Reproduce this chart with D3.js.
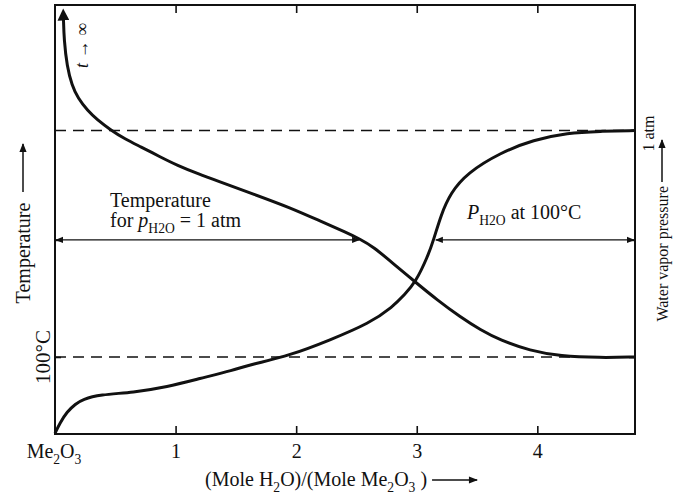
<!DOCTYPE html>
<html>
<head>
<meta charset="utf-8">
<script src="https://cdn.jsdelivr.net/npm/d3@7"></script>
<style>
  body { margin: 0; background: #fff; }
  svg { display: block; font-family: "Liberation Serif", "Times New Roman", serif; }
  .axis .domain { display: none; }
  .axis line { stroke: #111; stroke-width: 1.6; }
  .axis text { font-family: "Liberation Serif", serif; font-size: 20px; fill: #111; }
</style>
</head>
<body>
<svg id="chart" width="673" height="502"></svg>
<script>
"use strict";

// Data (x = mole H2O / mole Me2O3, y = relative level, 100°C level = 1)
var tempX = [0.07, 0.075, 0.10, 0.14, 0.19, 0.27, 0.35, 0.46, 0.58, 0.71, 0.87, 1.01, 1.20, 1.34, 1.62, 1.95, 2.22, 2.41, 2.53, 2.64, 2.80, 2.99, 3.17, 3.36, 3.53, 3.69, 3.94, 4.19, 4.52, 4.81];
var tempY = [5.40, 5.12, 4.77, 4.53, 4.36, 4.20, 4.08, 3.95, 3.83, 3.73, 3.60, 3.49, 3.37, 3.29, 3.13, 2.94, 2.75, 2.62, 2.53, 2.43, 2.22, 1.97, 1.74, 1.52, 1.35, 1.22, 1.08, 1.01, 0.99, 1.00];
var pressX = [0, 0.04, 0.10, 0.17, 0.23, 0.37, 0.65, 0.93, 1.20, 1.48, 1.62, 1.95, 2.28, 2.61, 2.80, 2.90, 2.99, 3.09, 3.14, 3.20, 3.28, 3.42, 3.69, 3.97, 4.25, 4.52, 4.81];
var pressY = [0.01, 0.14, 0.29, 0.39, 0.45, 0.51, 0.54, 0.61, 0.72, 0.83, 0.90, 1.02, 1.22, 1.44, 1.65, 1.81, 1.97, 2.30, 2.52, 2.84, 3.13, 3.39, 3.65, 3.82, 3.91, 3.93, 3.94];
var xTicks = [1, 2, 3, 4];
var level100C = 1;      // 100°C
var level1atm = 3.94;   // 1 atm
var arrowLevel = 2.52;
var leftArrow = [0, 2.53];
var rightArrow = [3.15, 4.81];

var svg = d3.select("#chart");
var margin = {left: 55, right: 38, top: 5, bottom: 68};
var W = 673, H = 502;

var x = d3.scaleLinear().domain([0, 4.81]).range([margin.left, W - margin.right]);
var y = d3.scaleLinear().domain([0, 5.57]).range([H - margin.bottom, margin.top]);

// Markers
var defs = svg.append("defs");
defs.append("marker").attr("id", "bigHead")
  .attr("viewBox", "0 0 10 10").attr("refX", 2).attr("refY", 5)
  .attr("markerWidth", 4).attr("markerHeight", 4)
  .attr("markerUnits", "strokeWidth")
  .attr("orient", "auto-start-reverse")
  .append("path").attr("d", "M0,0 L10,5 L0,10 z").attr("fill", "#111");
defs.append("marker").attr("id", "smallHead")
  .attr("viewBox", "0 0 10 10").attr("refX", 9).attr("refY", 5)
  .attr("markerWidth", 10).attr("markerHeight", 6)
  .attr("markerUnits", "strokeWidth")
  .attr("orient", "auto-start-reverse")
  .append("path").attr("d", "M0,1 L10,5 L0,9 z").attr("fill", "#111");

// Frame
svg.append("rect")
  .attr("x", x(0)).attr("y", y(5.57))
  .attr("width", x(4.81) - x(0)).attr("height", y(0) - y(5.57))
  .attr("fill", "none").attr("stroke", "#111").attr("stroke-width", 2);

// Ticks via axes
svg.append("g").attr("class", "axis")
  .attr("transform", "translate(0," + y(0) + ")")
  .call(d3.axisBottom(x).tickValues(xTicks).tickSize(-8).tickPadding(10).tickFormat(d3.format("d")));
svg.append("g").attr("class", "axis")
  .attr("transform", "translate(0," + y(5.57) + ")")
  .call(d3.axisTop(x).tickValues(xTicks).tickSize(-8).tickFormat(""));
svg.append("g").attr("class", "axis")
  .attr("transform", "translate(" + x(0) + ",0)")
  .call(d3.axisLeft(y).tickValues([level100C, arrowLevel]).tickSize(-6).tickFormat(""));
svg.append("g").attr("class", "axis")
  .attr("transform", "translate(" + x(4.81) + ",0)")
  .call(d3.axisRight(y).tickValues([level100C, arrowLevel, level1atm]).tickSize(-6).tickFormat(""));

// Dashed reference lines
[level100C, level1atm].forEach(function(lv) {
  svg.append("line")
    .attr("x1", x(0)).attr("x2", x(4.81))
    .attr("y1", y(lv)).attr("y2", y(lv))
    .attr("stroke", "#111").attr("stroke-width", 1.6)
    .attr("stroke-dasharray", "11,7");
});

// Curves
var line = d3.line().x(d => x(d[0])).y(d => y(d[1])).curve(d3.curveBasis);
svg.append("path")
  .datum(tempX.map((v, i) => [v, tempY[i]]))
  .attr("d", line)
  .attr("fill", "none").attr("stroke", "#111").attr("stroke-width", 3)
  .attr("marker-start", "url(#bigHead)");
svg.append("path")
  .datum(pressX.map((v, i) => [v, pressY[i]]))
  .attr("d", line)
  .attr("fill", "none").attr("stroke", "#111").attr("stroke-width", 3);

// Double headed arrows
[leftArrow, rightArrow].forEach(function(a) {
  svg.append("line")
    .attr("x1", x(a[0]) + 1).attr("x2", x(a[1]) - 1)
    .attr("y1", y(arrowLevel)).attr("y2", y(arrowLevel))
    .attr("stroke", "#111").attr("stroke-width", 1.3)
    .attr("marker-start", "url(#smallHead)")
    .attr("marker-end", "url(#smallHead)");
});

// Rich text helper: parts = [[text, "sub"|"it"|""], ...]
function rich(sel, parts, size) {
  var shift = 0;
  parts.forEach(function(p) {
    var ts = sel.append("tspan").text(p[0]);
    var want = p[1].indexOf("sub") >= 0 ? Math.round(size * 0.3) : 0;
    if (want != shift) { ts.attr("dy", want - shift); shift = want; }
    if (p[1].indexOf("sub") >= 0) ts.attr("font-size", size * 0.68);
    if (p[1].indexOf("it") >= 0) ts.attr("font-style", "italic");
  });
  return sel;
}

// Labels
rich(svg.append("text").attr("x", x(0) - 1).attr("y", 458).attr("text-anchor", "middle")
  .attr("font-size", 20).attr("fill", "#111"),
  [["Me", ""], ["2", "sub"], ["O", ""], ["3", "sub"]], 20);

var xt = rich(svg.append("text").attr("x", 205).attr("y", 486)
  .attr("font-size", 20).attr("fill", "#111"),
  [["(Mole H", ""], ["2", "sub"], ["O)/(Mole Me", ""], ["2", "sub"], ["O", ""], ["3", "sub"], [" )", ""]], 20);
var xtEnd = 205 + xt.node().getComputedTextLength();
svg.append("line")
  .attr("x1", xtEnd + 5).attr("x2", xtEnd + 50)
  .attr("y1", 480).attr("y2", 480)
  .attr("stroke", "#111").attr("stroke-width", 1.5)
  .attr("marker-end", "url(#smallHead)");

svg.append("text").attr("x", 110).attr("y", 207)
  .attr("font-size", 20).attr("fill", "#111").text("Temperature");
rich(svg.append("text").attr("x", 110).attr("y", 227)
  .attr("font-size", 20).attr("fill", "#111"),
  [["for ", ""], ["p", "it"], ["H", "sub"], ["2", "sub"], ["O", "sub"], [" = 1 atm", ""]], 20);

rich(svg.append("text").attr("x", 467).attr("y", 219)
  .attr("font-size", 20).attr("fill", "#111"),
  [["P", "it"], ["H", "sub"], ["2", "sub"], ["O", "sub"], ["  at 100°C", ""]], 20);

// Rotated left labels
svg.append("text")
  .attr("transform", "translate(30," + 253 + ") rotate(-90)")
  .attr("text-anchor", "middle").attr("font-size", 20).attr("fill", "#111")
  .text("Temperature");
svg.append("line")
  .attr("x1", 23).attr("x2", 23).attr("y1", 192).attr("y2", 144)
  .attr("stroke", "#111").attr("stroke-width", 1.5)
  .attr("marker-end", "url(#smallHead)");
svg.append("text")
  .attr("transform", "translate(50," + y(level100C) + ") rotate(-90)")
  .attr("text-anchor", "middle").attr("font-size", 21).attr("fill", "#111")
  .text("100°C");

// t -> infinity
var tl = svg.append("text")
  .attr("transform", "translate(88,68) rotate(-90)")
  .attr("font-size", 18).attr("fill", "#111");
tl.append("tspan").attr("font-style", "italic").text("t");
tl.append("tspan").attr("fill", "#111").text(" \u2192 \u221E");

// Right labels
svg.append("text")
  .attr("transform", "translate(654," + (y(level1atm) + 3) + ") rotate(-90)")
  .attr("text-anchor", "middle").attr("font-size", 16).attr("fill", "#111")
  .text("1 atm");
svg.append("text")
  .attr("transform", "translate(668,186) rotate(-90)")
  .attr("text-anchor", "end").attr("font-size", 16).attr("fill", "#111")
  .text("Water vapor pressure");
svg.append("line")
  .attr("x1", 662).attr("x2", 662).attr("y1", 182).attr("y2", 140)
  .attr("stroke", "#111").attr("stroke-width", 1.5)
  .attr("marker-end", "url(#smallHead)");
</script>
</body>
</html>
